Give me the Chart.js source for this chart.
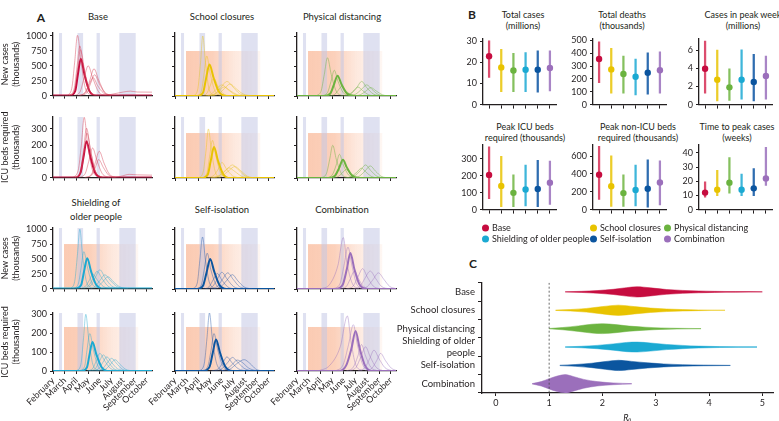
<!DOCTYPE html>
<html>
<head>
<meta charset="utf-8">
<title>Scenario projections</title>
<script src="https://cdn.jsdelivr.net/npm/chart.js@4.4.1/dist/chart.umd.min.js"></script>
<style>
body{margin:0;width:779px;height:421px;position:relative;overflow:hidden;background:#fff;font-family:Lato,'Open Sans',sans-serif;color:#231f20}
canvas{position:absolute}
.tt{position:absolute;font-size:9px;line-height:12px;text-align:center;white-space:nowrap;transform:translate(-50%,-50%)}
.ta{font-size:9.5px}
.pl{position:absolute;font-size:12px;font-weight:bold;transform:translate(-50%,-50%)}
.leg{position:absolute;font-size:9px;line-height:11px;white-space:nowrap;transform:translateY(-50%)}
.leg i{display:inline-block;width:7px;height:7px;border-radius:50%;margin-right:3px;vertical-align:-0.5px}
</style>
</head>
<body>
<div class="pl" style="left:41px;top:17px">A</div>
<div class="pl" style="left:472px;top:14px">B</div>
<div class="pl" style="left:473px;top:263px">C</div>
<div class="tt ta" style="left:98px;top:17px">Base</div>
<div class="tt ta" style="left:222px;top:17px">School closures</div>
<div class="tt ta" style="left:342px;top:17px">Physical distancing</div>
<div class="tt ta" style="left:96px;top:210px;line-height:14px">Shielding of<br>older people</div>
<div class="tt ta" style="left:222px;top:210px">Self-isolation</div>
<div class="tt ta" style="left:342px;top:210px">Combination</div>
<div class="tt" style="left:523px;top:20px;line-height:11px">Total cases<br>(millions)</div>
<div class="tt" style="left:622px;top:20px;line-height:11px">Total deaths<br>(thousands)</div>
<div class="tt" style="left:743px;top:20px;line-height:11px">Cases in peak week<br>(millions)</div>
<div class="tt" style="left:525px;top:131.5px;line-height:11px">Peak ICU beds<br>required (thousands)</div>
<div class="tt" style="left:638px;top:131.5px;line-height:11px">Peak non-ICU beds<br>required (thousands)</div>
<div class="tt" style="left:737px;top:131.5px;line-height:11px">Time to peak cases<br>(weeks)</div>
<script>
// months on the x axis of panel A (0 = 1 February)
const months=['February','March','April','May','June','July','August','September','October'];
const monthTicks=[0,1,2,3,4,5,6,7,8];
const holidayStart=[0.51,2.09,3.72,5.66];
const holidayEnd=[0.77,2.57,4.0,7.06];
const interventionStart=0.94, interventionEnd=7.28;

const scenarios=['Base','School closures','Physical distancing','Shielding of older people','Self-isolation','Combination'];
const colours=['#c60c3f','#e8c300','#6bb33f','#1ba9d2','#0b559f','#9b6fbb'];
const rangeColours=['#dc4d6e','#eccd2a','#85c05e','#3fb6da','#2f6db0','#a985c6'];
const runColours=['rgba(214,70,90,0.6)','rgba(232,196,40,0.6)','rgba(112,180,70,0.6)','rgba(40,170,210,0.55)','rgba(40,90,170,0.55)','rgba(155,115,190,0.55)'];

const casesTicks=[0,250,500,750,1000];
const icuTicks=[0,100,200,300];

// panel A: simulated runs [month, thousands] and the median run
const baseCasesRuns=[
 [[1.2,0],[1.6,120],[1.85,560],[2.09,1010],[2.4,560],[2.75,130],[3.3,0]],
 [[1.35,0],[1.8,110],[2.05,480],[2.29,835],[2.6,460],[3.0,110],[3.6,0]],
 [[1.4,0],[1.85,100],[2.1,440],[2.35,770],[2.7,420],[3.1,100],[3.7,0]],
 [[1.8,0],[2.3,60],[2.65,290],[3.0,500],[3.4,290],[3.9,60],[4.5,0]],
 [[2.2,0],[2.8,60],[3.15,260],[3.5,450],[3.9,260],[4.4,60],[5.0,0]],
 [[2.3,0],[2.9,50],[3.2,200],[3.55,350],[3.95,200],[4.4,50],[5.0,0]],
 [[2.1,0],[2.7,45],[3.05,170],[3.43,300],[3.8,170],[4.3,45],[4.9,0]],
 [[4.5,0],[5.2,30],[6.0,60],[6.6,75],[7.2,60],[8.45,58]]
];
const baseCasesMedian=[[0,0],[1.45,0],[1.9,80],[2.12,350],[2.37,620],[2.7,340],[3.1,80],[3.7,0],[8.45,0]];
const baseIcuRuns=[
 [[1.7,0],[2.15,45],[2.42,200],[2.66,371],[2.95,210],[3.35,50],[3.9,0]],
 [[1.85,0],[2.35,40],[2.6,165],[2.86,304],[3.2,170],[3.6,40],[4.2,0]],
 [[1.9,0],[2.4,35],[2.65,150],[2.9,274],[3.25,150],[3.65,35],[4.3,0]],
 [[2.2,0],[2.75,25],[3.05,100],[3.38,182],[3.75,105],[4.2,25],[4.8,0]],
 [[2.7,0],[3.3,22],[3.6,90],[3.95,162],[4.35,90],[4.8,22],[5.4,0]],
 [[2.7,0],[3.3,15],[3.6,60],[3.9,111],[4.3,62],[4.75,15],[5.3,0]],
 [[5.0,0],[5.8,8],[6.5,20],[7.2,17],[8.45,15]]
];
const baseIcuMedian=[[0,0],[1.9,0],[2.35,30],[2.6,125],[2.86,223],[3.2,125],[3.6,30],[4.2,0],[8.45,0]];

const schoolCasesRuns=[
 [[1.6,0],[1.95,120],[2.18,560],[2.37,1000],[2.6,560],[2.9,120],[3.4,0]],
 [[1.8,0],[2.25,80],[2.48,370],[2.71,667],[3.0,380],[3.4,90],[4.0,0]],
 [[2.2,0],[2.7,40],[3.0,170],[3.3,300],[3.65,170],[4.1,40],[4.7,0]],
 [[2.5,0],[3.1,30],[3.5,110],[4.0,185],[4.5,110],[5.1,25],[5.8,0]],
 [[2.8,0],[3.5,40],[3.95,150],[4.43,243],[4.95,150],[5.5,40],[6.2,0]],
 [[3.0,0],[3.7,30],[4.2,120],[4.7,200],[5.2,125],[5.8,35],[6.6,0]],
 [[2.6,0],[3.3,25],[3.75,90],[4.2,150],[4.7,90],[5.3,22],[6.0,0]]
];
const schoolCasesMedian=[[0,0],[1.9,0],[2.4,60],[2.65,290],[2.94,525],[3.3,300],[3.75,70],[4.4,0],[8.45,0]];
const schoolIcuRuns=[
 [[2.0,0],[2.4,35],[2.65,170],[2.85,300],[3.1,170],[3.45,35],[3.9,0]],
 [[2.2,0],[2.7,25],[2.95,130],[3.2,230],[3.5,130],[3.9,30],[4.5,0]],
 [[2.7,0],[3.3,15],[3.7,55],[4.0,95],[4.4,55],[4.9,14],[5.5,0]],
 [[3.1,0],[3.8,15],[4.4,50],[4.9,80],[5.4,50],[6.0,12],[6.7,0]],
 [[3.3,0],[4.0,12],[4.6,45],[5.1,70],[5.6,45],[6.2,10],[6.9,0]],
 [[3.0,0],[3.7,12],[4.2,40],[4.6,62],[5.1,40],[5.7,10],[6.4,0]]
];
const schoolIcuMedian=[[0,0],[2.3,0],[2.8,22],[3.05,105],[3.33,190],[3.65,110],[4.1,25],[4.7,0],[8.45,0]];

const distancingCasesRuns=[
 [[1.6,0],[2.05,80],[2.33,360],[2.6,638],[2.92,360],[3.35,80],[3.9,0]],
 [[2.1,0],[2.6,55],[2.9,240],[3.18,429],[3.5,245],[3.95,55],[4.6,0]],
 [[2.6,0],[3.2,22],[3.5,90],[3.8,158],[4.15,90],[4.6,22],[5.2,0]],
 [[4.0,0],[4.6,35],[5.1,140],[5.52,243],[5.95,140],[6.5,35],[7.2,0]],
 [[4.4,0],[5.0,30],[5.5,110],[5.95,186],[6.4,110],[6.9,30],[7.6,0]],
 [[3.8,0],[4.4,22],[4.85,90],[5.2,150],[5.6,90],[6.1,22],[6.8,0]],
 [[4.8,0],[5.4,20],[5.9,85],[6.3,140],[6.75,85],[7.3,20],[8.0,0]]
];
const distancingCasesMedian=[[0,0],[2.3,0],[2.85,45],[3.15,190],[3.46,339],[3.8,195],[4.25,45],[4.9,0],[8.45,0]];
const distancingIcuRuns=[
 [[2.0,0],[2.5,25],[2.78,110],[3.05,200],[3.35,115],[3.8,25],[4.4,0]],
 [[2.5,0],[3.0,18],[3.35,80],[3.62,145],[3.95,80],[4.4,18],[5.0,0]],
 [[4.3,0],[4.9,12],[5.4,45],[5.85,80],[6.3,45],[6.8,12],[7.5,0]],
 [[4.7,0],[5.3,10],[5.8,42],[6.25,74],[6.7,42],[7.2,10],[7.9,0]],
 [[4.0,0],[4.6,8],[5.1,35],[5.5,60],[5.9,35],[6.4,8],[7.0,0]],
 [[3.0,0],[3.5,8],[3.85,30],[4.2,52],[4.55,30],[5.0,8],[5.6,0]]
];
const distancingIcuMedian=[[0,0],[2.7,0],[3.25,15],[3.6,62],[3.92,112],[4.25,65],[4.7,15],[5.3,0],[8.45,0]];

const shieldingCasesRuns=[
 [[1.5,0],[1.85,120],[2.08,560],[2.29,1000],[2.52,560],[2.85,120],[3.35,0]],
 [[1.7,0],[2.15,75],[2.4,350],[2.63,622],[2.95,350],[3.35,80],[3.9,0]],
 [[2.6,0],[3.2,45],[3.6,180],[4.0,317],[4.45,180],[5.0,45],[5.7,0]],
 [[2.4,0],[3.0,40],[3.4,165],[3.75,289],[4.2,165],[4.7,40],[5.4,0]],
 [[3.0,0],[3.6,35],[4.0,135],[4.43,233],[4.9,135],[5.45,35],[6.1,0]],
 [[2.2,0],[2.75,35],[3.1,140],[3.4,245],[3.8,140],[4.3,35],[4.9,0]],
 [[3.2,0],[3.8,30],[4.25,115],[4.7,200],[5.15,115],[5.7,30],[6.4,0]]
];
const shieldingCasesMedian=[[0,0],[1.9,0],[2.4,60],[2.65,290],[2.92,511],[3.25,290],[3.7,60],[4.3,0],[8.45,0]];
const shieldingIcuRuns=[
 [[2.0,0],[2.38,35],[2.6,170],[2.8,300],[3.05,170],[3.4,35],[3.9,0]],
 [[2.2,0],[2.7,25],[2.9,110],[3.14,198],[3.45,110],[3.85,25],[4.4,0]],
 [[2.9,0],[3.4,14],[3.7,55],[4.0,93],[4.4,55],[4.9,14],[5.6,0]],
 [[3.3,0],[3.9,12],[4.25,45],[4.6,75],[5.0,45],[5.5,12],[6.2,0]],
 [[3.6,0],[4.2,10],[4.6,40],[5.0,67],[5.4,42],[5.9,10],[6.6,0]],
 [[3.0,0],[3.6,12],[3.95,50],[4.3,85],[4.7,50],[5.2,12],[5.9,0]],
 [[3.9,0],[4.5,10],[4.9,35],[5.3,60],[5.7,36],[6.2,9],[6.9,0]]
];
const shieldingIcuMedian=[[0,0],[2.4,0],[2.9,20],[3.12,88],[3.37,154],[3.7,88],[4.15,20],[4.8,0],[8.45,0]];

const isolationCasesRuns=[
 [[1.5,0],[1.9,100],[2.12,480],[2.35,870],[2.6,480],[2.95,100],[3.5,0]],
 [[1.8,0],[2.25,70],[2.5,330],[2.75,600],[3.05,330],[3.5,75],[4.1,0]],
 [[2.6,0],[3.2,40],[3.6,160],[4.0,280],[4.45,165],[5.0,40],[5.7,0]],
 [[3.0,0],[3.6,40],[4.05,160],[4.5,270],[4.95,165],[5.5,40],[6.2,0]],
 [[3.3,0],[3.9,35],[4.4,140],[4.9,240],[5.35,140],[5.9,35],[6.6,0]],
 [[2.4,0],[2.9,35],[3.25,150],[3.6,260],[4.0,150],[4.5,35],[5.1,0]]
];
const isolationCasesMedian=[[0,0],[1.9,0],[2.4,60],[2.7,280],[3.0,500],[3.35,290],[3.8,65],[4.4,0],[8.45,0]];
const isolationIcuRuns=[
 [[2.1,0],[2.5,40],[2.73,175],[2.94,307],[3.18,175],[3.55,40],[4.1,0]],
 [[2.3,0],[2.8,25],[3.08,110],[3.33,198],[3.65,110],[4.1,25],[4.7,0]],
 [[3.1,0],[3.7,12],[4.1,45],[4.43,75],[4.85,45],[5.4,12],[6.1,0]],
 [[3.8,0],[4.4,10],[4.9,35],[5.3,58],[5.75,45],[6.3,15],[7.0,0]],
 [[3.4,0],[4.0,12],[4.5,45],[4.9,72],[5.3,50],[5.9,14],[6.6,0]],
 [[4.0,0],[4.7,10],[5.3,40],[5.9,60],[6.4,40],[6.9,10],[7.5,0]]
];
const isolationIcuMedian=[[0,0],[2.4,0],[2.95,22],[3.22,95],[3.5,167],[3.85,95],[4.3,22],[4.9,0],[8.45,0]];

const combinationCasesRuns=[
 [[2.0,0],[2.8,80],[3.5,400],[3.95,860],[4.25,450],[4.7,100],[5.3,0]],
 [[3.0,0],[3.65,80],[4.0,380],[4.35,700],[4.7,380],[5.1,80],[5.7,0]],
 [[4.2,0],[4.8,50],[5.2,200],[5.6,340],[6.0,200],[6.5,50],[7.1,0]],
 [[4.8,0],[5.4,45],[5.8,180],[6.25,300],[6.7,180],[7.2,45],[7.9,0]],
 [[5.4,0],[6.0,40],[6.5,160],[6.95,270],[7.4,165],[7.9,45],[8.45,5]],
 [[3.6,0],[4.2,40],[4.55,170],[4.9,300],[5.25,170],[5.7,40],[6.3,0]]
];
const combinationCasesMedian=[[0,0],[3.3,0],[3.9,70],[4.25,330],[4.55,600],[4.9,330],[5.35,70],[6.0,0],[8.45,0]];
const combinationIcuRuns=[
 [[1.8,0],[2.8,30],[3.7,130],[4.3,291],[4.6,160],[5.0,35],[5.6,0]],
 [[3.3,0],[3.95,35],[4.4,140],[4.81,245],[5.15,140],[5.6,35],[6.2,0]],
 [[4.5,0],[5.05,20],[5.45,75],[5.85,128],[6.25,75],[6.75,20],[7.4,0]],
 [[5.2,0],[5.8,18],[6.2,65],[6.57,110],[7.0,65],[7.5,18],[8.2,0]],
 [[5.8,0],[6.4,15],[6.8,55],[7.14,93],[7.55,55],[8.05,15],[8.45,3]],
 [[4.2,0],[4.8,20],[5.2,80],[5.5,140],[5.85,80],[6.3,20],[6.9,0]]
];
const combinationIcuMedian=[[0,0],[3.6,0],[4.2,30],[4.65,120],[5.0,212],[5.35,120],[5.8,30],[6.4,0],[8.45,0]];

// panel B: median and range per scenario
const totalCasesMid=[23.0,17.7,16.2,16.6,16.6,17.4];
const totalCasesLow=[12.9,6.2,6.2,6.2,5.9,6.5];
const totalCasesHigh=[30.3,26.3,24.4,24.8,25.6,25.6];
const totalDeathsMid=[355,274,238,217,248,267];
const totalDeathsLow=[171,88,88,76,81,88];
const totalDeathsHigh=[488,438,378,355,402,410];
const peakWeekMid=[3.95,2.74,1.9,2.74,2.5,3.15];
const peakWeekLow=[1.27,0.4,0.45,0.6,0.4,0.6];
const peakWeekHigh=[7.0,6.0,3.95,6.05,5.55,5.35];
const peakIcuMid=[205,139,99,119,122,159];
const peakIcuLow=[64,18,18,22,18,31];
const peakIcuHigh=[370,315,205,263,291,287];
const peakNonIcuMid=[390,261,185,220,233,303];
const peakNonIcuLow=[115,35,35,42,28,52];
const peakNonIcuHigh=[707,603,390,498,557,547];
const timeToPeakMid=[12,14,19,14,15,22];
const timeToPeakLow=[8.7,9.8,11.6,9.8,9.8,17];
const timeToPeakHigh=[19.6,27.7,36.7,25,29,44];

// panel C: R0 distributions (R0 value, half width in row units)
const r0Labels=['Base','School closures','Physical distancing',['Shielding of older','people'],'Self-isolation','Combination'];
const r0Ticks=[0,1,2,3,4,5];
const r0Threshold=1;
const r0Points=[
 [1.3,1.6,1.9,2.2,2.45,2.65,2.9,3.2,3.5,3.8,4.1,4.5,5.0],
 [1.12,1.4,1.7,2.0,2.3,2.6,2.9,3.2,3.5,3.8,4.3],
 [1.0,1.25,1.55,1.8,2.0,2.25,2.5,2.8,3.1,3.4,3.85],
 [1.3,1.6,1.9,2.2,2.45,2.65,2.9,3.2,3.5,3.8,4.2,4.9],
 [1.2,1.5,1.8,2.05,2.3,2.55,2.85,3.15,3.5,3.9,4.4],
 [0.68,0.85,1.0,1.15,1.3,1.45,1.65,1.9,2.2,2.55]
];
const r0Widths=[
 [0.01,0.03,0.07,0.14,0.23,0.28,0.22,0.13,0.08,0.05,0.03,0.015,0.01],
 [0.01,0.04,0.1,0.2,0.28,0.2,0.12,0.07,0.04,0.02,0.005],
 [0.01,0.06,0.15,0.24,0.27,0.22,0.14,0.08,0.04,0.02,0.005],
 [0.01,0.04,0.09,0.17,0.25,0.27,0.22,0.14,0.09,0.05,0.025,0.01],
 [0.01,0.05,0.12,0.21,0.28,0.22,0.14,0.08,0.04,0.02,0.005],
 [0.01,0.12,0.28,0.42,0.5,0.4,0.24,0.12,0.05,0.01]
];

Chart.defaults.font.family="Lato, 'Open Sans', sans-serif";
Chart.defaults.font.size=9;
Chart.defaults.color='#231f20';
Chart.defaults.animation=false;
Chart.defaults.responsive=false;
Chart.defaults.events=[];
Chart.defaults.plugins.legend.display=false;
Chart.defaults.plugins.tooltip.enabled=false;

const ink='#231f20';
function mk(left,top,w,h){
  const c=document.createElement('canvas');
  c.width=Math.round(w);c.height=Math.round(h);
  c.style.left=left+'px';c.style.top=top+'px';
  document.body.appendChild(c);
  return c;
}
function pts(a){return a.map(q=>({x:q[0],y:q[1]}));}

// holiday bands and intervention window behind the curves
const shading={id:'shading',beforeDraw(chart,args,o){
  const {ctx,chartArea:a,scales:{x,y}}=chart;
  ctx.save();
  if(o.boxTop){
    const x0=x.getPixelForValue(interventionStart),x1=x.getPixelForValue(interventionEnd),yt=y.getPixelForValue(o.boxTop);
    const g=ctx.createLinearGradient(x0,0,x1,0);
    g.addColorStop(0,'rgba(250,190,160,0.8)');
    g.addColorStop(0.35,'rgba(250,190,160,0.72)');
    g.addColorStop(0.65,'rgba(250,190,160,0.35)');
    g.addColorStop(1,'rgba(250,190,160,0.12)');
    ctx.fillStyle=g;ctx.fillRect(x0,yt,x1-x0,a.bottom-yt);
  }
  ctx.fillStyle='rgba(196,200,230,0.55)';
  holidayStart.forEach((s,i)=>{
    const x0=x.getPixelForValue(s),x1=x.getPixelForValue(holidayEnd[i]);
    ctx.fillRect(x0,a.top,x1-x0,a.bottom-a.top);
  });
  ctx.restore();
}};

const colX=[53.3,175,296.7];
const rowY=[[33,96],[117,178.3],[228,289],[312.7,371]];
const rowMax=[1050,373,1020,307];
const rowBox=[750,275,750,233];
const rowTicks=[casesTicks,icuTicks,casesTicks,icuTicks];
const rowTitle=[['New cases','(thousands)'],['ICU beds required','(thousands)'],['New cases','(thousands)'],['ICU beds required','(thousands)']];

const panelsA=[
 {r:0,col:0,c:0,runs:baseCasesRuns,med:baseCasesMedian},
 {r:0,col:1,c:1,runs:schoolCasesRuns,med:schoolCasesMedian},
 {r:0,col:2,c:2,runs:distancingCasesRuns,med:distancingCasesMedian},
 {r:1,col:0,c:0,runs:baseIcuRuns,med:baseIcuMedian},
 {r:1,col:1,c:1,runs:schoolIcuRuns,med:schoolIcuMedian},
 {r:1,col:2,c:2,runs:distancingIcuRuns,med:distancingIcuMedian},
 {r:2,col:0,c:3,runs:shieldingCasesRuns,med:shieldingCasesMedian},
 {r:2,col:1,c:4,runs:isolationCasesRuns,med:isolationCasesMedian},
 {r:2,col:2,c:5,runs:combinationCasesRuns,med:combinationCasesMedian},
 {r:3,col:0,c:3,runs:shieldingIcuRuns,med:shieldingIcuMedian},
 {r:3,col:1,c:4,runs:isolationIcuRuns,med:isolationIcuMedian},
 {r:3,col:2,c:5,runs:combinationIcuRuns,med:combinationIcuMedian}
];

panelsA.forEach(p=>{
  const L=53,R=6,T=14,B=p.r===3?50:8,W=98.6;
  const y0=rowY[p.r][0],y1=rowY[p.r][1];
  const cv=mk(colX[p.col]-L,y0-T,L+W+R,T+(y1-y0)+B);
  const ds=p.runs.map(run=>({data:pts(run),borderColor:runColours[p.c],borderWidth:0.8,pointRadius:0,cubicInterpolationMode:'monotone'}));
  ds.push({data:pts(p.med),borderColor:colours[p.c],borderWidth:2,pointRadius:0,cubicInterpolationMode:'monotone'});
  const first=p.col===0;
  new Chart(cv,{type:'line',data:{datasets:ds},
    options:{layout:{padding:{top:T,right:R,left:0,bottom:0}},
      scales:{
        x:{type:'linear',min:0,max:8.45,
          afterFit:s=>{s.height=B;},
          afterBuildTicks:s=>{s.ticks=monthTicks.map(v=>({value:v}));},
          ticks:{display:p.r===3,autoSkip:false,minRotation:45,maxRotation:45,padding:1,callback:v=>months[v]},
          grid:{drawOnChartArea:false,tickLength:3,color:ink},
          border:{color:ink,width:1.3}},
        y:{min:0,max:rowMax[p.r],
          afterFit:s=>{s.width=L;},
          afterBuildTicks:s=>{s.ticks=rowTicks[p.r].map(v=>({value:v}));},
          ticks:{display:first,padding:3,callback:v=>String(v)},
          title:{display:first,text:rowTitle[p.r],padding:0,font:{size:9}},
          grid:{drawOnChartArea:false,tickLength:3,color:ink},
          border:{color:ink,width:1.3}}
      },
      plugins:{shading:{boxTop:p.c===0?null:rowBox[p.r]}}
    },plugins:[shading]});
});

// panel B
const panelsB=[
 {x:483,y0:36,y1:107,max:31.5,ticks:[0,10,20,30],mid:totalCasesMid,low:totalCasesLow,high:totalCasesHigh},
 {x:593,y0:36,y1:107,max:515,ticks:[0,100,200,300,400,500],mid:totalDeathsMid,low:totalDeathsLow,high:totalDeathsHigh},
 {x:699,y0:36,y1:107,max:7.3,ticks:[0,2,4,6],mid:peakWeekMid,low:peakWeekLow,high:peakWeekHigh},
 {x:483,y0:142,y1:212.3,max:385,ticks:[0,100,200,300],mid:peakIcuMid,low:peakIcuLow,high:peakIcuHigh},
 {x:593,y0:142,y1:212.3,max:730,ticks:[0,200,400,600],mid:peakNonIcuMid,low:peakNonIcuLow,high:peakNonIcuHigh},
 {x:699,y0:142,y1:212.3,max:46,ticks:[0,10,20,30,40],mid:timeToPeakMid,low:timeToPeakLow,high:timeToPeakHigh}
];
panelsB.forEach(p=>{
  const L=30,R=4,T=6,B=6,W=73;
  const cv=mk(p.x-L,p.y0-T,L+W+R,T+(p.y1-p.y0)+B);
  new Chart(cv,{type:'bar',
    data:{labels:scenarios,datasets:[
      {type:'line',data:p.mid,showLine:false,pointRadius:3.2,pointBackgroundColor:colours,pointBorderWidth:0,order:0},
      {data:p.low.map((v,i)=>[v,p.high[i]]),backgroundColor:rangeColours,barThickness:1.6,order:1}
    ]},
    options:{layout:{padding:{top:T,right:R,left:0,bottom:0}},
      scales:{
        x:{afterFit:s=>{s.height=B;},ticks:{display:false},
          grid:{offset:false,drawOnChartArea:false,tickLength:4,color:ink},
          border:{color:ink,width:1.3}},
        y:{min:0,max:p.max,afterFit:s=>{s.width=L;},
          afterBuildTicks:s=>{s.ticks=p.ticks.map(v=>({value:v}));},
          ticks:{padding:3,callback:v=>String(v)},
          grid:{drawOnChartArea:false,tickLength:3,color:ink},
          border:{color:ink,width:1.3}}
      }}});
});

// legend under panel B
const legX=[482,590,664];
scenarios.forEach((s,i)=>{
  const d=document.createElement('div');
  d.className='leg';
  d.style.left=legX[i%3]+'px';
  d.style.top=(i<3?227:238)+'px';
  d.innerHTML='<i style="background:'+colours[i]+'"></i>'+s;
  document.body.appendChild(d);
});

// panel C: violins of R0
(function(){
  const L=88,R=6,T=4,B=30,W=291,H=115;
  const cv=mk(482-L,278-T,L+W+R,T+H+B);
  const ds=[{data:[{x:r0Threshold,y:0},{x:r0Threshold,y:6}],yAxisID:'yv',borderColor:'#444',borderWidth:0.8,borderDash:[2,2],pointRadius:0}];
  r0Points.forEach((xs,i)=>{
    const w=r0Widths[i];
    ds.push({data:xs.map((v,k)=>({x:v,y:i+0.5-w[k]})),yAxisID:'yv',borderColor:colours[i],borderWidth:0.5,pointRadius:0,cubicInterpolationMode:'monotone',fill:false});
    ds.push({data:xs.map((v,k)=>({x:v,y:i+0.5+w[k]})),yAxisID:'yv',borderColor:colours[i],backgroundColor:colours[i],borderWidth:0.5,pointRadius:0,cubicInterpolationMode:'monotone',fill:'-1'});
  });
  new Chart(cv,{type:'line',data:{datasets:ds},
    options:{layout:{padding:{top:T,right:R,left:0,bottom:0}},
      scales:{
        x:{type:'linear',min:-0.26,max:5.2,
          afterFit:s=>{s.height=B;},
          afterBuildTicks:s=>{s.ticks=r0Ticks.map(v=>({value:v}));},
          ticks:{padding:2},
          title:{display:true,text:'R\u2080',font:{style:'italic',size:9},padding:0},
          grid:{drawOnChartArea:false,tickLength:3,color:ink},
          border:{color:ink,width:1.3}},
        y:{type:'category',labels:r0Labels,offset:true,
          afterFit:s=>{s.width=L;},
          ticks:{padding:3,autoSkip:false,font:{size:9.5}},
          grid:{offset:true,drawOnChartArea:false,tickLength:4,color:ink},
          border:{color:ink,width:1.3}},
        yv:{type:'linear',display:false,min:0,max:6,reverse:true}
      }}});
})();
</script>
</body>
</html>
